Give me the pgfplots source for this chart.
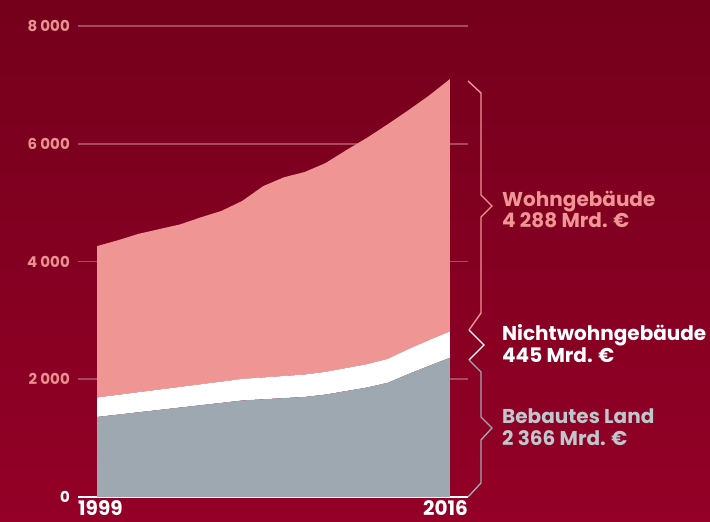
\documentclass[border=0pt]{standalone}
\usepackage{fontspec}
\setmainfont{Poppins}[BoldFont={Poppins Bold}]
\usepackage{pgfplots}
\pgfplotsset{compat=1.18}
\usepackage{pgfplotstable}
\definecolor{bgtop}{HTML}{74001C}
\definecolor{bgbot}{HTML}{940027}
\definecolor{pinkarea}{HTML}{EF9593}
\definecolor{grayarea}{HTML}{9EA8B0}
\definecolor{ticklab}{HTML}{E8918F}
\definecolor{gridc}{HTML}{A84A5C}
\definecolor{graytext}{HTML}{BFC6CC}

\pgfplotstableread{
year land nichtwohn wohn
1999 1360 330 2572
2000 1400 335 2625
2001 1440 340 2690
2002 1480 345 2725
2003 1520 350 2760
2004 1560 355 2835
2005 1600 360 2900
2006 1640 365 3025
2007 1660 370 3250
2008 1680 375 3375
2009 1700 380 3440
2010 1740 385 3545
2011 1800 390 3700
2012 1860 395 3845
2013 1940 405 3985
2014 2090 420 4060
2015 2230 435 4155
2016 2366 445 4288
}\datatable

\begin{document}
\begin{tikzpicture}
\shade[top color=bgtop, bottom color=bgbot] (-78bp,-25bp) rectangle (632bp,497bp);
\useasboundingbox (-78bp,-25bp) rectangle (632bp,497bp);
\begin{axis}[
  scale only axis,
  width=390bp, height=471bp,
  xmin=1998.08, xmax=2016.87,
  ymin=0, ymax=8000,
  stack plots=y,
  clip=false,
  axis x line*=bottom,
  axis y line*=left,
  x axis line style={white, line width=2bp},
  y axis line style={draw=none},
  xtick={1999,2016},
  xticklabels={},
  x tick style={draw=none},
  ytick={0,2000,4000,6000,8000},
  yticklabels={{\textcolor{white}{0}},{2 000},{4 000},{6 000},{8 000}},
  y tick style={draw=none},
  ymajorgrids,
  grid style={gridc, line width=1.8bp},
  /pgf/number format/assume math mode=true,
  yticklabel style={font=\fontsize{15bp}{15bp}\selectfont\bfseries, text=ticklab, anchor=east, inner sep=0pt, xshift=-8bp},
]
\addplot[fill=grayarea, draw=none] table[x=year, y=land] {\datatable} \closedcycle;
\addplot[fill=white, draw=none] table[x=year, y=nichtwohn] {\datatable} \closedcycle;
\addplot[fill=pinkarea, draw=none] table[x=year, y=wohn] {\datatable} \closedcycle;
\end{axis}
% year labels
\node[anchor=north west, inner sep=0pt, text=white, font=\fontsize{20bp}{20bp}\selectfont\bfseries] at (0bp,-3bp) {1999};
\node[anchor=north east, inner sep=0pt, text=white, font=\fontsize{20bp}{20bp}\selectfont\bfseries] at (390bp,-3bp) {2016};
% braces
\draw[pinkarea, line width=1.4bp, line join=miter] (390bp,416bp) -- (403bp,404bp) -- (403bp,302bp) -- (414bp,291bp) -- (403bp,280bp) -- (403bp,184bp) -- (391bp,167bp);
\draw[white, line width=1.4bp, line join=miter] (391bp,167bp) -- (406bp,152bp) -- (391bp,137bp);
\draw[grayarea, line width=1.4bp, line join=miter] (391bp,137bp) -- (403bp,125bp) -- (403bp,80bp) -- (414bp,69bp) -- (403bp,57bp) -- (403bp,14bp) -- (390bp,0bp);
% labels
\begin{scope}[every node/.style={anchor=base west, inner sep=0pt, font=\fontsize{20bp}{20bp}\selectfont\bfseries}]
\node[text=pinkarea] at (424bp,290bp) {Wohngebäude};
\node[text=pinkarea] at (424bp,269bp) {4 288 Mrd. €};
\node[text=white] at (424bp,156bp) {Nichtwohngebäude};
\node[text=white] at (424bp,134bp) {445 Mrd. €};
\node[text=graytext] at (424bp,73bp) {Bebautes Land};
\node[text=graytext] at (424bp,51bp) {2 366 Mrd. €};
\end{scope}
\end{tikzpicture}
\end{document}
